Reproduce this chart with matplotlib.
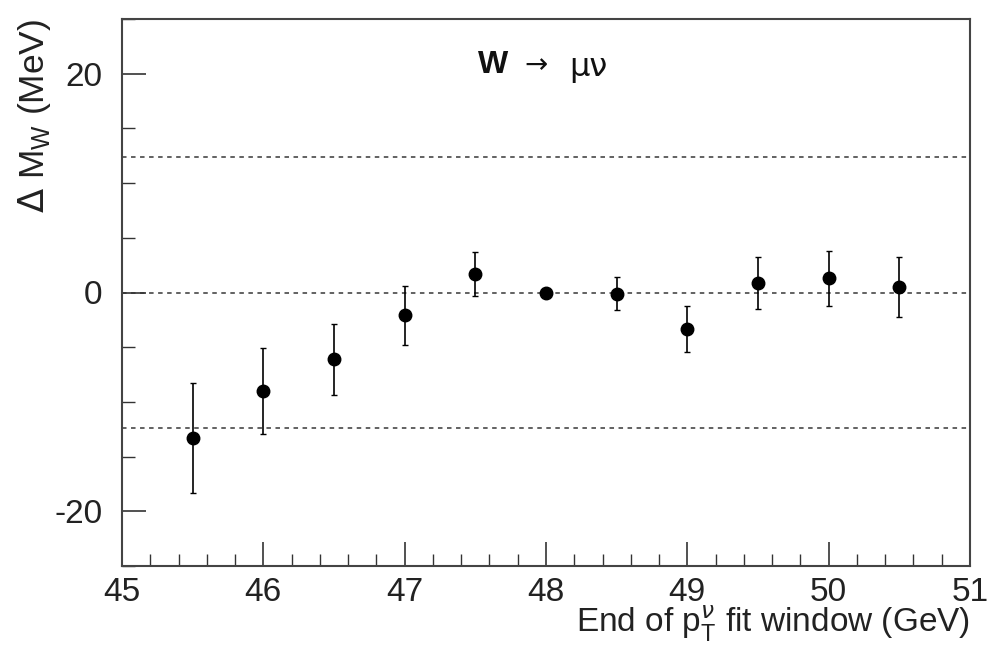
import matplotlib
matplotlib.use("Agg")
import matplotlib.pyplot as plt
from matplotlib.ticker import MultipleLocator

plt.rcParams['font.family'] = ['Liberation Sans', 'DejaVu Sans']
plt.rcParams['axes.unicode_minus'] = False

window_end = [45.5, 46.0, 46.5, 47.0, 47.5, 48.0, 48.5, 49.0, 49.5, 50.0, 50.5]
delta_mw = [-13.3, -9.0, -6.1, -2.1, 1.7, 0.0, -0.1, -3.3, 0.85, 1.3, 0.5]
delta_err = [5.0, 3.9, 3.25, 2.7, 2.0, 0.0, 1.5, 2.1, 2.4, 2.5, 2.7]
ref_lines = [12.4, 0.0, -12.4]
x_ticks = [45, 46, 47, 48, 49, 50, 51]
y_ticks = [-20, 0, 20]

fig = plt.figure(figsize=(9.91, 6.53), dpi=100)
ax = fig.add_axes([122/991, 1 - 566/653, (970-122)/991, (566-19)/653])

for yv in ref_lines:
    ax.axhline(yv, color='#555555', lw=1.3, ls=(0, (2.5, 2.5)), zorder=1)

ax.errorbar(window_end, delta_mw, yerr=delta_err, fmt='o', color='black',
            markersize=9, elinewidth=1.2, capsize=2, capthick=1.0, zorder=3)

ax.set_xlim(45, 51)
ax.set_ylim(-25, 25)
ax.set_xticks(x_ticks)
ax.set_yticks(y_ticks)
ax.xaxis.set_minor_locator(MultipleLocator(0.2))
ax.yaxis.set_minor_locator(MultipleLocator(5))
ax.tick_params(axis='both', which='major', direction='in', length=17, width=1.2,
               labelsize=24, colors='#333333', labelcolor='#222222')
ax.tick_params(axis='both', which='minor', direction='in', length=9, width=1.0,
               colors='#333333')
ax.tick_params(axis='x', pad=8)
ax.tick_params(axis='y', pad=14)
for s in ax.spines.values():
    s.set_color('#444444')
    s.set_linewidth(1.5)

ax.set_xlabel(r'End of p$_\mathregular{T}^{\nu}$ fit window (GeV)', fontsize=24,
              loc='right', labelpad=-3, color='#222222')
ax.set_ylabel(r'$\Delta$ M$_\mathregular{W}$ (MeV)', fontsize=25.5, loc='top',
              color='#222222')
ax.yaxis.set_label_coords(-0.081, 1.0)

ax.text(0.42, 0.915, 'W', transform=ax.transAxes, fontsize=23, fontweight='bold',
        ha='left', va='center', color='#111111')
ax.text(0.474, 0.915, '\u2192', transform=ax.transAxes, fontsize=20,
        ha='left', va='center', color='#111111', family=['DejaVu Sans'])
ax.text(0.527, 0.912, '\u03bc\u03bd', transform=ax.transAxes, fontsize=23,
        ha='left', va='center', color='#111111',
        family=['DejaVu Sans', 'Liberation Sans'])

fig.savefig('out.png', dpi=100)
